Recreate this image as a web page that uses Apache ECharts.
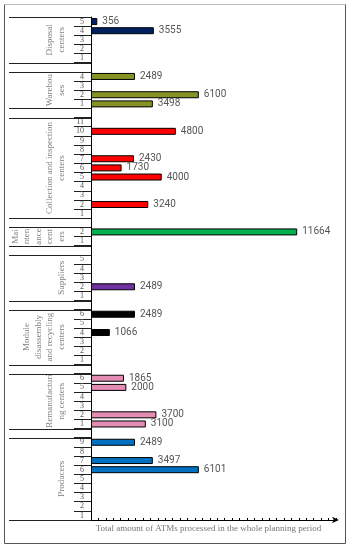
<!DOCTYPE html>
<html>
<head>
<meta charset="utf-8">
<script src="https://cdn.jsdelivr.net/npm/echarts@6/dist/echarts.min.js"></script>
<style>html,body{margin:0;padding:0;background:#fff}#c{width:354px;height:550px}</style>
</head>
<body>
<div id="c"></div>
<script>
// Group names (top to bottom) and how they are wrapped in the picture
const groupNames = ['Disposal centers', 'Warehouses', 'Collection and inspection centers', 'Maintenance centers', 'Suppliers', 'Module disassembly and recycling centers', 'Remanufacturing centers', 'Producers'];
const groupLabelLines = [['Disposal', 'centers'], ['Warehou', 'ses'], ['Collection and inspection', 'centers'], ['Mai', 'nten', 'ance', 'cent', 'ers'], ['Suppliers'], ['Module', 'disassembly', 'and recycling', 'centers'], ['Remanufacturi', 'ng centers'], ['Producers']];
const groupColors = ['#002060', '#879226', '#ff0000', '#00b050', '#7030a0', '#000000', '#e38db5', '#0070c0'];

// Values per facility, listed from the highest facility number down to 1
const disposalValues = [356, 3555, null, null, null];
const warehouseValues = [2489, null, 6100, 3498];
const collectionValues = [null, 4800, null, null, 2430, 1730, 4000, null, null, 3240, null];
const maintenanceValues = [11664, null];
const supplierValues = [null, null, null, 2489, null];
const moduleValues = [2489, null, 1066, null, null, null];
const remanValues = [1865, 2000, null, null, 3700, 3100];
const producerValues = [2489, null, 3497, 6101, null, null, null, null, null];

const groupValues = [disposalValues, warehouseValues, collectionValues, maintenanceValues, supplierValues, moduleValues, remanValues, producerValues];
const xAxisTitle = 'Total amount of ATMs processed in the whole planning period';

// Build category slots (with one empty slot between groups)
const cats = [], tickLabels = [], barData = [];
const groupRanges = [];
groupValues.forEach((vals, gi) => {
  const start = cats.length;
  vals.forEach((v, j) => {
    const num = String(vals.length - j);
    cats.push('g' + gi + '_' + num);
    tickLabels.push(num);
    barData.push(v == null ? '-' : { value: v, itemStyle: { color: groupColors[gi] } });
  });
  groupRanges.push([start, cats.length - 1]);
  if (gi < groupValues.length - 1) {
    cats.push('gap' + gi);
    tickLabels.push('');
    barData.push('-');
  }
});

const chart = echarts.init(document.getElementById('c'), null, { renderer: 'canvas' });
const serif = "'Liberation Serif', 'DejaVu Serif', serif";
chart.setOption({
  animation: false,
  grid: { left: 91, top: 17, width: 245, height: 503, containLabel: false },
  xAxis: {
    type: 'value', min: 0, max: 13860, interval: 420,
    axisLine: { show: true, lineStyle: { color: '#000', width: 1 }, symbol: ['none', 'arrow'], symbolSize: [5, 7], symbolOffset: [0, 3] },
    axisTick: { show: true, inside: true, length: 2, lineStyle: { color: '#000' } },
    axisLabel: { show: false },
    splitLine: { show: false },
    name: xAxisTitle, nameLocation: 'middle', nameGap: 4,
    nameTextStyle: { fontFamily: serif, fontSize: 9, color: '#777', verticalAlign: 'top', padding: [0, 10, 0, 0] }
  },
  yAxis: {
    type: 'category', data: cats, inverse: true,
    axisLine: { show: true, lineStyle: { color: '#000', width: 1 } },
    axisTick: { show: true, length: 17, interval: 0, lineStyle: { color: '#222' } },
    axisLabel: { interval: 0, margin: 7, fontFamily: serif, fontSize: 8, color: '#555', formatter: (v, i) => tickLabels[i] }
  },
  series: [{
    type: 'bar', data: barData, barWidth: 7,
    itemStyle: { borderColor: '#000', borderWidth: 1 },
    label: { show: true, position: 'right', distance: 5, formatter: '{c}', fontFamily: "'Liberation Sans Narrow', Roboto, sans-serif", fontSize: 10, color: '#555' }
  }]
});

// Decorations derived from the axis: group separator lines and rotated group names
const yPix = i => chart.convertToPixel({ yAxisIndex: 0 }, i);
const band = yPix(1) - yPix(0);
const axisX = chart.convertToPixel({ xAxisIndex: 0 }, 0);
const leftX = 9;
const graphics = [];
const hline = y => ({ type: 'line', shape: { x1: leftX, y1: y, x2: axisX, y2: y }, style: { stroke: '#222', lineWidth: 1 }, z: 10 });
groupRanges.forEach(([s, e], gi) => {
  const top = yPix(s) - band / 2, bot = yPix(e) + band / 2;
  graphics.push(hline(Math.round(top) + 0.5));
  graphics.push(hline(Math.round(bot) + 0.5));
  graphics.push({
    type: 'text', x: 67, y: (top + bot) / 2, rotation: Math.PI / 2, z: 10,
    style: { text: groupLabelLines[gi].join('\n'), fontFamily: serif, fontSize: 9, lineHeight: 11.5, fill: '#7f7f7f', align: 'center', verticalAlign: 'bottom' }
  });
});
// outer frame
graphics.push({ type: 'rect', shape: { x: 4.5, y: 4.5, width: 341, height: 539 }, style: { fill: 'none', stroke: '#555', lineWidth: 1 }, z: 0 });
graphics.push({ type: 'line', shape: { x1: 4.5, y1: 4.5, x2: 345.5, y2: 4.5 }, style: { stroke: '#bbb', lineWidth: 1 }, z: 1 });
chart.setOption({ graphic: graphics });
</script>
</body>
</html>
